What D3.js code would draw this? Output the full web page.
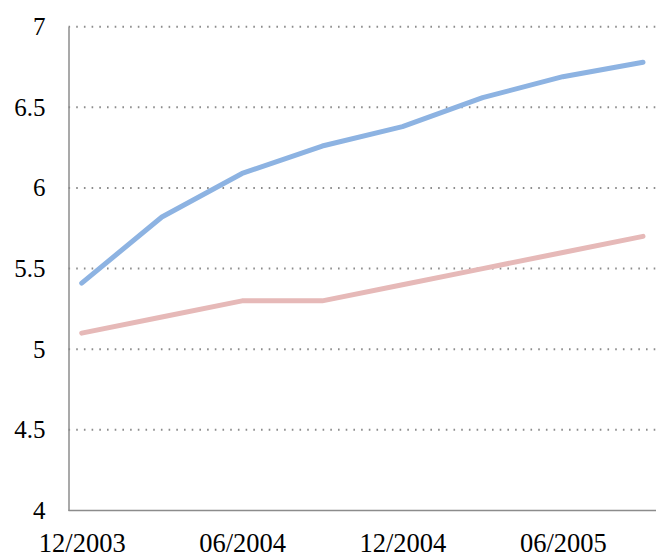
<!DOCTYPE html>
<html><head><meta charset="utf-8">
<script src="https://cdn.jsdelivr.net/npm/d3@7"></script>
<style>body{margin:0;background:#fff}svg{display:block}</style>
</head><body>
<svg id="c" width="667" height="560"></svg>
<script>
const categories = ["12/2003","03/2004","06/2004","09/2004","12/2004","03/2005","06/2005","09/2005"];
const seriesBlue = [5.41,5.82,6.09,6.26,6.38,6.56,6.69,6.78];
const seriesPink = [5.10,5.20,5.30,5.30,5.40,5.50,5.60,5.70];
const yTicks = [4,4.5,5,5.5,6,6.5,7];
const xLabelCats = ["12/2003","06/2004","12/2004","06/2005"];

(function(){
const svg = d3.select("#c");
const pLeft = 68.5, pRight = 656, pTop = 26.7, pBottom = 510.5;
const x = d3.scalePoint().domain(categories).range([81.7, 643]);
const y = d3.scaleLinear().domain([4,7]).range([pBottom, pTop]);
const serif = "'Liberation Serif','Times New Roman',serif";

// gridlines
svg.append("g").selectAll("line").data(yTicks.filter(d=>d>4)).join("line")
  .attr("x1", pLeft).attr("x2", pRight)
  .attr("y1", d=>y(d)).attr("y2", d=>y(d))
  .attr("stroke","#8c8c8c").attr("stroke-width",2)
  .attr("stroke-dasharray","1.6,6.1");

// y axis
const yAxis = d3.axisLeft(y).tickValues(yTicks).tickSize(0).tickPadding(23)
  .tickFormat(d=>String(d));
const gy = svg.append("g").attr("transform",`translate(${pLeft},0)`).call(yAxis);
gy.select(".domain").attr("stroke","#8c8c8c").attr("stroke-width",1.5);
gy.selectAll("text").attr("font-family",serif).attr("font-size",25).attr("fill","#000");

// x axis
const xAxis = d3.axisBottom(x).tickValues(xLabelCats).tickSize(0).tickPadding(0);
const gx = svg.append("g").attr("transform",`translate(0,${pBottom})`).call(xAxis);
gx.select(".domain").attr("d",`M${pLeft},0H${pRight}`).attr("stroke","#8c8c8c").attr("stroke-width",1.5);
gx.selectAll("text").attr("font-family",serif).attr("font-size",26.5).attr("fill","#000")
  .attr("y",41.5).attr("dy",0);

const line = d3.line().x((d,i)=>x(categories[i])).y(d=>y(d));
svg.append("path").datum(seriesPink).attr("d",line).attr("fill","none")
  .attr("stroke","#e6b9b8").attr("stroke-width",5).attr("stroke-linecap","round").attr("stroke-linejoin","round");
svg.append("path").datum(seriesBlue).attr("d",line).attr("fill","none")
  .attr("stroke","#8db3e2").attr("stroke-width",5).attr("stroke-linecap","round").attr("stroke-linejoin","round");
})();
</script>
</body></html>
